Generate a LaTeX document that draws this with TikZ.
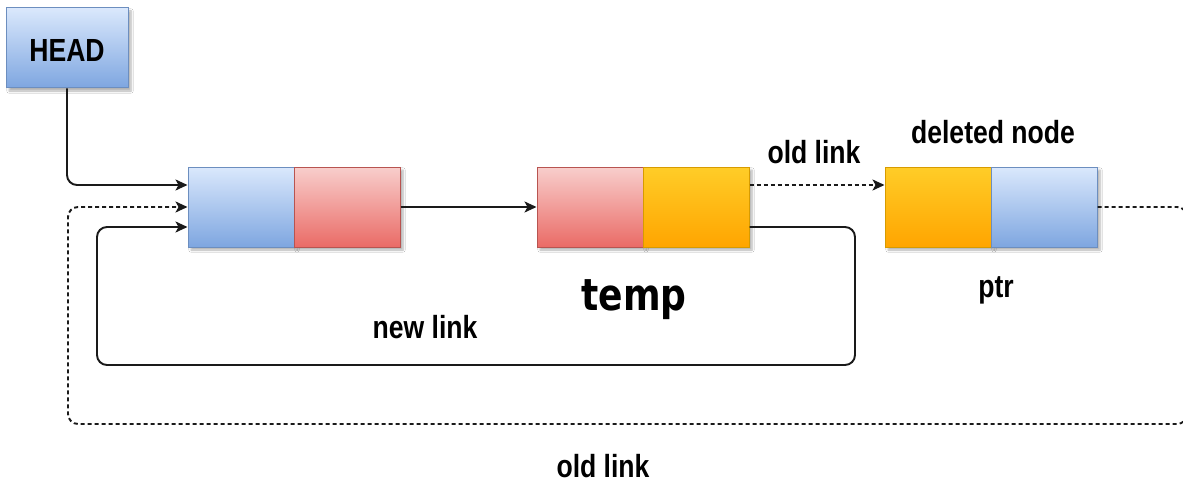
\documentclass[tikz,border=0pt]{standalone}
\usepackage{fontspec}
\setmainfont{Liberation Sans}
\newfontfamily\handfont{DejaVu Sans}
\usetikzlibrary{arrows.meta,shadows.blur}
\definecolor{bluetop}{HTML}{DAE8FC}
\definecolor{bluebot}{HTML}{7EA6E0}
\definecolor{bluedraw}{HTML}{6C8EBF}
\definecolor{redtop}{HTML}{F8CECC}
\definecolor{redbot}{HTML}{EA6B66}
\definecolor{reddraw}{HTML}{B85450}
\definecolor{orgtop}{HTML}{FFCD28}
\definecolor{orgbot}{HTML}{FFA500}
\definecolor{orgdraw}{HTML}{D79B00}
\definecolor{linecol}{HTML}{1A1A1A}
\newcommand{\mycond}[1]{\scalebox{0.83}[1]{#1}}
\tikzset{
  cell/.style={rectangle, minimum width=106pt, minimum height=80pt, inner sep=0pt, line width=1pt,
    blur shadow={shadow xshift=3pt, shadow yshift=-3pt, shadow blur steps=6, shadow opacity=30}},
  bluecell/.style={cell, draw=bluedraw, top color=bluetop, bottom color=bluebot},
  redcell/.style={cell, draw=reddraw, top color=redtop, bottom color=redbot},
  orgcell/.style={cell, draw=orgdraw, top color=orgtop, bottom color=orgbot},
  lbl/.style={font=\fontsize{32}{36}\selectfont\bfseries, anchor=base, inner sep=0pt, text=black},
  link/.style={draw=linecol, line width=1.9pt, rounded corners=10pt},
  arr/.style={-{Stealth[length=12pt,width=11pt,inset=3pt]}},
  dlink/.style={link, dash pattern=on 4pt off 3pt},
}
\begin{document}
\begin{tikzpicture}[x=1pt,y=-1pt]
\useasboundingbox (0,0) rectangle (1183,484);
\clip (0,0) rectangle (1183,484);
\fill[white] (0,0) rectangle (1183,484);

% nodes
\node[bluecell, minimum width=122pt, minimum height=80pt] (head) at (67,48) {};
\node[lbl] (headtxt) at (67,62) {\mycond{HEAD}};

\node[bluecell] (n1a) at (241,207) {};
\node[redcell]  (n1b) at (347,207) {};
\node[redcell]  (n2a) at (590,207) {};
\node[orgcell]  (n2b) at (696,207) {};
\node[orgcell]  (n3a) at (938,207) {};
\node[bluecell] (n3b) at (1044,207) {};

% labels
\node[lbl] (oldlinktop) at (814,163) {\mycond{old link}};
\node[lbl] (deleted) at (993,143) {\mycond{deleted node}};
\node[lbl] (ptr) at (996,297) {\mycond{ptr}};
\node[lbl] (newlink) at (425,338) {\mycond{new link}};
\node[lbl] (oldlinkbot) at (603,477) {\mycond{old link}};
\node[anchor=base, inner sep=0pt, font=\handfont\bfseries\fontsize{44}{50}\selectfont] (temp) at (634,310) {\scalebox{0.82}[1]{temp}};

% corner coordinates
\coordinate (d1) at (1187,207);
\coordinate (d2) at (1187,424);
\coordinate (d3) at (68,424);
\coordinate (d4) at (68,207);
\coordinate (s1) at (855,227);
\coordinate (s2) at (855,365);
\coordinate (s3) at (97,365);
\coordinate (s4) at (97,227);

% connectors
\draw[link, arr] (head.south) |- ([yshift=22pt]n1a.west);
\draw[link, arr, rounded corners=0pt] (n1b.east) -- (n2a.west);
\draw[dlink, arr, rounded corners=0pt] ([yshift=22pt]n2b.east) -- ([yshift=22pt]n3a.west);
\draw[dlink, arr] (n3b.east) -- (d1) -- (d2) -- (d3) -- (d4) -- (n1a.west);
\draw[link, arr] ([yshift=-20pt]n2b.east) -- (s1) -- (s2) -- (s3) -- (s4) -- ([yshift=-20pt]n1a.west);
\end{tikzpicture}
\end{document}
